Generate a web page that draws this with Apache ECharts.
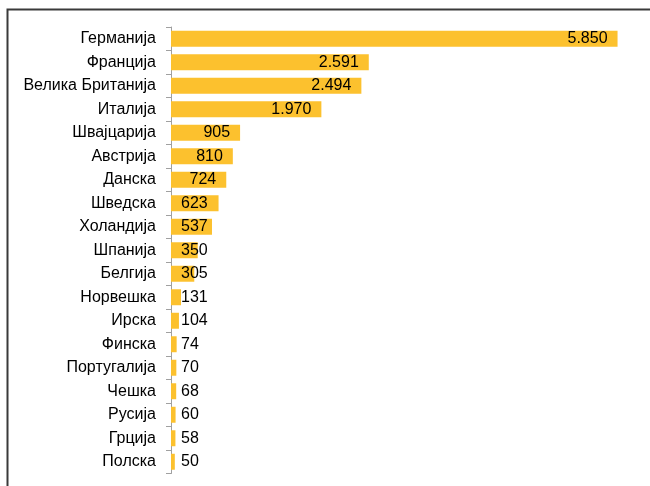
<!DOCTYPE html>
<html>
<head>
<meta charset="utf-8">
<script src="https://cdn.jsdelivr.net/npm/echarts@6/dist/echarts.min.js"></script>
<style>
  html, body { margin: 0; padding: 0; background: #fff; }
  #chart { width: 650px; height: 486px; }
</style>
</head>
<body>
<div id="chart"></div>
<script>
const countries = [
  "Германија", "Франција", "Велика Британија", "Италија", "Швајцарија",
  "Австрија", "Данска", "Шведска", "Холандија", "Шпанија", "Белгија",
  "Норвешка", "Ирска", "Финска", "Португалија", "Чешка", "Русија",
  "Грција", "Полска"
];
const values = [5850, 2591, 2494, 1970, 905, 810, 724, 623, 537, 350, 305,
  131, 104, 74, 70, 68, 60, 58, 50];

const fmt = v => String(v).replace(/\B(?=(\d{3})+(?!\d))/g, ".");

// long bars: label at the inside end; short ones: label from near the base
const labelFor = v => v >= 700
  ? { position: "insideRight", distance: 10 }
  : { position: "insideLeft", distance: 10 };

const chart = echarts.init(document.getElementById("chart"));
chart.setOption({
  backgroundColor: "#fff",
  animation: false,
  graphic: [
    {
      type: "rect",
      shape: { x: 7.5, y: 9.5, width: 700, height: 600 },
      style: { fill: "none", stroke: "#3a3a3a", lineWidth: 2 },
      z: 10
    }
  ],
  grid: { left: 171, right: 21, top: 27, bottom: 12.5, containLabel: false },
  xAxis: {
    type: "value",
    min: 0,
    max: 6000,
    show: false
  },
  yAxis: {
    type: "category",
    inverse: true,
    data: countries,
    axisLine: { lineStyle: { color: "#a0a0a0", width: 1 } },
    axisTick: { show: true, length: 5, lineStyle: { color: "#a0a0a0" } },
    axisLabel: {
      color: "#000",
      fontFamily: "Liberation Sans, Arial, sans-serif",
      fontSize: 16,
      margin: 15
    }
  },
  series: [
    {
      type: "bar",
      barCategoryGap: "32%",
      itemStyle: { color: "#FCC12E" },
      data: values.map(v => ({ value: v, label: labelFor(v) })),
      label: {
        show: true,
        color: "#000",
        fontFamily: "Liberation Sans, Arial, sans-serif",
        fontSize: 16,
        formatter: p => fmt(p.value)
      }
    }
  ]
});
</script>
</body>
</html>
